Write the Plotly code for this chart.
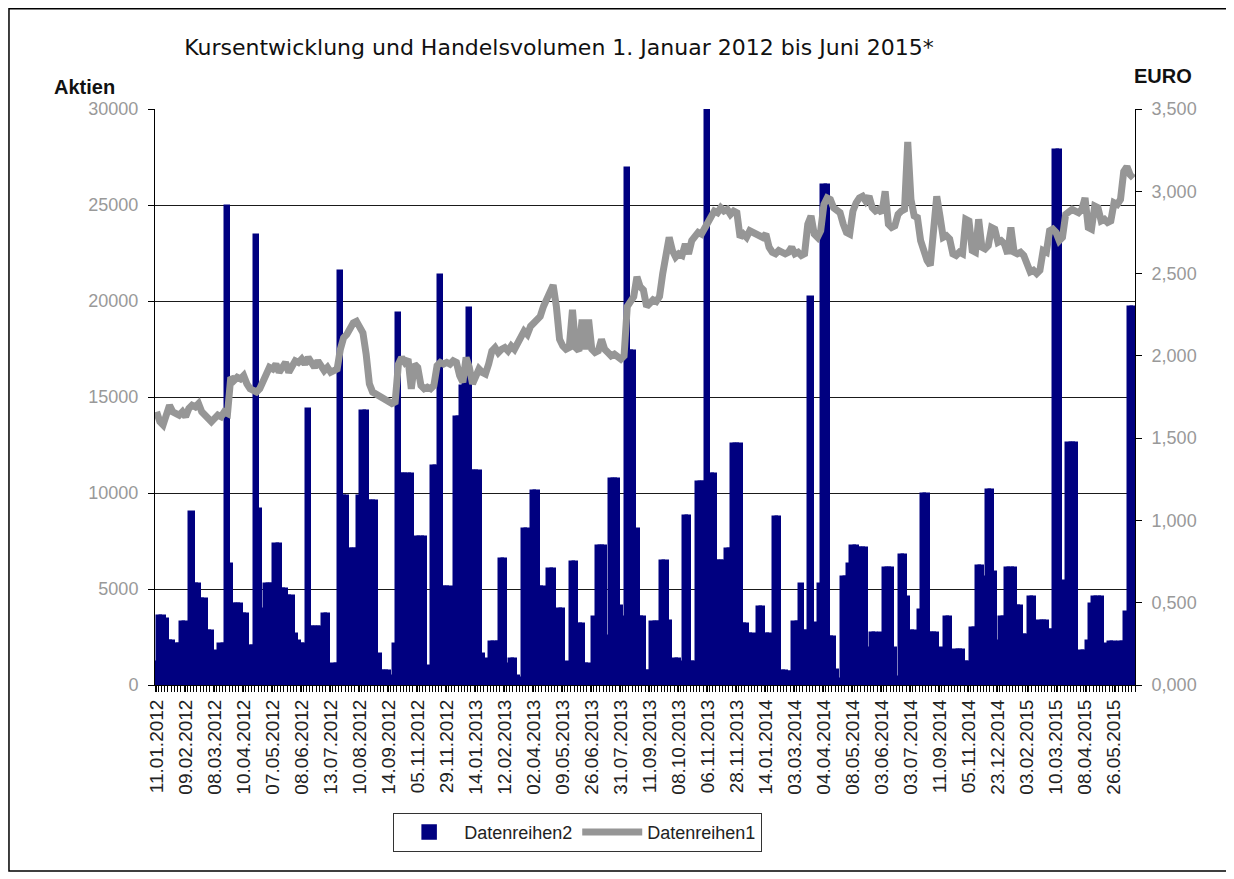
import plotly.graph_objects as go

# daily trading volume (Aktien), one value per trading day shown
VOLUME = [
    1150, 3540, 3540, 3400, 2240, 2240, 2080, 2080, 3230, 3230,
    1150, 8960, 5200, 5200, 4430, 4430, 2770, 2770, 1720, 1200,
    2080, 2080, 24900, 6250, 4170, 4170, 4170, 3650, 3650, 1980,
    1980, 23400, 9100, 3900, 5200, 5200, 5200, 7300, 7300, 4950,
    4950, 4600, 4600, 2600, 2240, 2080, 2080, 14320, 2970, 2970,
    2970, 2970, 3650, 3650, 620, 1040, 1040, 21500, 9800, 9800,
    7030, 7030, 7030, 9800, 14200, 14200, 9530, 9530, 9530, 1560,
    680, 680, 680, 420, 2080, 19300, 10940, 10940, 10940, 10940,
    2600, 7650, 7650, 7650, 940, 420, 11350, 11350, 21300, 5050,
    5050, 5050, 3540, 13900, 13900, 15500, 16000, 19600, 11090, 11090,
    11090, 1560, 300, 1300, 2190, 2190, 2190, 6510, 6510, 1040,
    1300, 1300, 420, 300, 8070, 8070, 5620, 10050, 10050, 5050,
    5050, 4840, 5990, 5990, 1150, 3900, 3900, 1150, 520, 6350,
    6350, 3120, 3120, 1040, 1040, 780, 3490, 7190, 7190, 7190,
    2500, 10680, 10680, 10680, 4060, 3500, 26900, 17340, 17340, 8070,
    3490, 3490, 680, 680, 3230, 3230, 3230, 6400, 6400, 3280,
    520, 1300, 1300, 1150, 8750, 8750, 1150, 1150, 10520, 10520,
    10520, 30000, 10940, 10940, 6400, 6400, 6400, 7030, 7030, 12500,
    12500, 12500, 3120, 3120, 2600, 2600, 2080, 4010, 4010, 2600,
    2600, 2190, 8700, 8700, 680, 680, 620, 620, 3230, 3230,
    5190, 2740, 2740, 20150, 2740, 3200, 5190, 26000, 26000, 2450,
    2450, 750, 280, 5570, 5570, 6230, 7170, 7170, 7080, 7080,
    7080, 1890, 2640, 2640, 1130, 2640, 6040, 6040, 6040, 1890,
    380, 6700, 6700, 4530, 2740, 2740, 1130, 3870, 9910, 9910,
    2640, 2640, 2640, 1890, 940, 3490, 3490, 1130, 1790, 1790,
    1790, 1130, 1130, 2920, 2920, 6130, 6130, 5570, 10090, 10090,
    5850, 2260, 3490, 3490, 6040, 6040, 6040, 4060, 4060, 2550,
    2550, 4530, 4530, 1510, 3300, 3300, 3300, 2830, 2830, 27830,
    27830, 2550, 5380, 12550, 12550, 12550, 1320, 1700, 1700, 2260,
    4150, 4530, 4530, 4530, 1890, 2080, 2170, 2170, 1130, 2170,
    2170, 3770, 19620, 19620,
]

# share price (EURO)
PRICE = [
    1.66, 1.60, 1.58, 1.64, 1.70, 1.66, 1.65, 1.64, 1.66, 1.63,
    1.68, 1.70, 1.69, 1.71, 1.66, 1.64, 1.61, 1.60, 1.62, 1.64,
    1.63, 1.66, 1.65, 1.87, 1.85, 1.87, 1.86, 1.88, 1.83, 1.80,
    1.79, 1.78, 1.80, 1.84, 1.88, 1.93, 1.92, 1.95, 1.90, 1.93,
    1.96, 1.90, 1.94, 1.97, 1.96, 1.98, 1.95, 1.99, 1.96, 1.93,
    1.97, 1.93, 1.91, 1.93, 1.90, 1.91, 1.92, 2.04, 2.11, 2.13,
    2.17, 2.20, 2.21, 2.18, 2.14, 2.01, 1.83, 1.78, 1.77, 1.76,
    1.75, 1.74, 1.73, 1.71, 1.72, 1.95, 1.99, 1.96, 1.98, 1.80,
    1.95, 1.93, 1.82, 1.80, 1.81, 1.80, 1.82, 1.94, 1.96, 1.95,
    1.96, 1.95, 1.97, 1.96, 1.88, 1.84, 1.99, 1.93, 1.83, 1.88,
    1.92, 1.90, 1.89, 1.95, 2.03, 2.05, 2.02, 2.04, 2.05, 2.03,
    2.06, 2.04, 2.08, 2.12, 2.15, 2.13, 2.18, 2.20, 2.22, 2.24,
    2.30, 2.35, 2.38, 2.43, 2.30, 2.10, 2.06, 2.04, 2.05, 2.28,
    2.05, 2.03, 2.22, 2.04, 2.22, 2.04, 2.02, 2.03, 2.10, 2.04,
    2.02, 2.00, 2.01, 1.99, 1.98, 2.00, 2.30, 2.33, 2.36, 2.48,
    2.42, 2.40, 2.30, 2.32, 2.34, 2.33, 2.36, 2.50, 2.62, 2.72,
    2.64, 2.60, 2.62, 2.61, 2.68, 2.62, 2.70, 2.72, 2.75, 2.74,
    2.78, 2.80, 2.84, 2.88, 2.87, 2.90, 2.88, 2.89, 2.86, 2.88,
    2.87, 2.72, 2.74, 2.72, 2.76, 2.75, 2.74, 2.73, 2.72, 2.74,
    2.66, 2.63, 2.62, 2.64, 2.63, 2.62, 2.63, 2.66, 2.62, 2.63,
    2.61, 2.62, 2.80, 2.85, 2.74, 2.72, 2.76, 2.92, 2.96, 2.95,
    2.90, 2.88, 2.87, 2.80, 2.75, 2.74, 2.88, 2.93, 2.96, 2.97,
    2.94, 2.97, 2.90, 2.88, 2.89, 2.87, 3.00, 2.80, 2.78, 2.79,
    2.86, 2.88, 2.89, 3.30, 2.95, 2.85, 2.84, 2.70, 2.62, 2.58,
    2.55, 2.77, 2.97, 2.85, 2.72, 2.73, 2.71, 2.62, 2.61, 2.63,
    2.62, 2.83, 2.82, 2.64, 2.63, 2.83, 2.66, 2.65, 2.67, 2.78,
    2.77, 2.69, 2.70, 2.68, 2.62, 2.78, 2.63, 2.62, 2.63, 2.61,
    2.56, 2.51, 2.52, 2.50, 2.52, 2.64, 2.63, 2.76, 2.77, 2.75,
    2.70, 2.72, 2.86, 2.88, 2.89, 2.88, 2.87, 2.89, 2.96, 2.78,
    2.77, 2.91, 2.90, 2.82, 2.83, 2.81, 2.82, 2.93, 2.92, 2.95,
    3.12, 3.15, 3.10, 3.08,
]

DATE_LABELS = [
    "11.01.2012", "09.02.2012", "08.03.2012", "10.04.2012", "07.05.2012",
    "08.06.2012", "13.07.2012", "10.08.2012", "14.09.2012", "05.11.2012",
    "29.11.2012", "14.01.2013", "12.02.2013", "02.04.2013", "09.05.2013",
    "26.06.2013", "31.07.2013", "11.09.2013", "08.10.2013", "06.11.2013",
    "28.11.2013", "14.01.2014", "03.03.2014", "04.04.2014", "08.05.2014",
    "03.06.2014", "03.07.2014", "11.09.2014", "05.11.2014", "23.12.2014",
    "03.02.2015", "10.03.2015", "08.04.2015", "26.05.2015",
]
LABEL_EVERY = 9

LEFT_TICKS = [0, 5000, 10000, 15000, 20000, 25000, 30000]
RIGHT_TICKS = [0, 0.5, 1.0, 1.5, 2.0, 2.5, 3.0, 3.5]

NAVY = "#000080"
GREY = "#969696"
FONT = "Liberation Sans, Arial, sans-serif"

days = list(range(len(VOLUME)))
label_pos = [i * LABEL_EVERY for i in range(len(DATE_LABELS))]

fig = go.Figure()
fig.add_trace(go.Bar(
    x=days, y=VOLUME, name="Datenreihen2",
    marker=dict(color=NAVY, line=dict(color=NAVY, width=3.5)),
))
fig.add_trace(go.Scatter(
    x=days, y=PRICE, name="Datenreihen1", yaxis="y2", mode="lines",
    line=dict(color=GREY, width=7),
))

# the page adds an 8px body margin, so the figure is sized to fit inside it
fig.update_layout(
    width=1226, height=871,
    margin=dict(l=147, r=99, t=101, b=194),
    paper_bgcolor="white", plot_bgcolor="white",
    font=dict(family=FONT, color="#222222"),
    separators=",.",
    bargap=0,
    showlegend=True,
    title=dict(
        text="Kursentwicklung und Handelsvolumen 1. Januar 2012 bis Juni 2015*",
        x=0.4494, y=0.9552, xanchor="center", yanchor="middle",
        font=dict(family="DejaVu Sans, sans-serif", size=22, color="#111111"),
    ),
    xaxis=dict(
        range=[-0.5, len(VOLUME) - 0.5],
        tickmode="array", tickvals=label_pos, ticktext=DATE_LABELS,
        tickangle=-90, tickfont=dict(size=19, color="#222222"),
        ticks="outside", ticklen=6, tickcolor="black",
        minor=dict(dtick=1, tick0=-0.5, ticks="outside", ticklen=6, tickcolor="black"),
        showline=True, linecolor="black", linewidth=1,
        showgrid=False, zeroline=False,
    ),
    yaxis=dict(
        range=[0, 30000], tickvals=LEFT_TICKS, tickformat="d",
        tickfont=dict(size=18, color="#999999"),
        ticks="outside", ticklen=6, tickcolor="black", ticklabelstandoff=6,
        showline=True, linecolor="black", linewidth=1,
        showgrid=True, gridcolor="#1a1a1a", gridwidth=1, zeroline=False,
    ),
    yaxis2=dict(
        range=[0, 3.5], tickvals=RIGHT_TICKS, tickformat=".3f",
        overlaying="y", side="right",
        tickfont=dict(size=18, color="#999999"),
        ticks="outside", ticklen=6, tickcolor="black", ticklabelstandoff=6,
        showline=True, linecolor="black", linewidth=1,
        showgrid=False, zeroline=False,
    ),
    legend=dict(
        orientation="h", x=0.243, y=-0.222, xanchor="left", yanchor="top",
        bordercolor="#333333", borderwidth=1, font=dict(size=18, color="#222222"),
        itemwidth=60, traceorder="normal",
    ),
)

fig.add_annotation(
    text="<b>Aktien</b>", xref="paper", yref="paper", x=-0.0724, y=1.038,
    xanchor="center", yanchor="middle",
    showarrow=False, font=dict(size=20, color="#111111"),
)
fig.add_annotation(
    text="<b>EURO</b>", xref="paper", yref="paper", x=1.0286, y=1.057,
    xanchor="center", yanchor="middle",
    showarrow=False, font=dict(size=20, color="#111111"),
)

# outer frame of the chart
fig.add_shape(
    type="rect", xref="paper", yref="paper",
    x0=-0.149, x1=1.0949, y0=-0.3229, y1=1.174,
    line=dict(color="black", width=1.5), layer="below",
)

fig.write_html("out.html")
